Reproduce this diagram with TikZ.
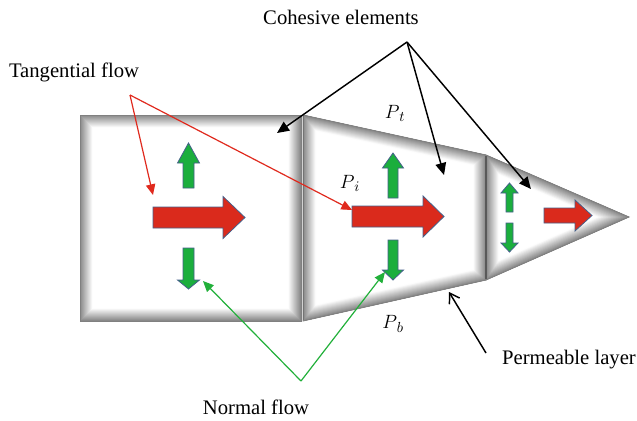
\documentclass[tikz,border=0pt]{standalone}
\usepackage{fontspec}
\setmainfont{Liberation Serif}
\usetikzlibrary{arrows.meta}
\definecolor{flowred}{HTML}{DA2A1C}
\definecolor{flowgreen}{HTML}{1BAE3D}
\definecolor{flowedge}{HTML}{44608A}
\definecolor{lblred}{HTML}{E02A1E}
\definecolor{lblgreen}{HTML}{22B03A}
\tikzset{
  lbl/.style={font=\fontsize{15.5}{18}\selectfont, inner sep=0pt},
  plbl/.style={font=\fontsize{15}{18}\selectfont, inner sep=0pt},
  redflow/.style={fill=flowred, draw=flowedge, line width=0.6pt, line join=miter},
  greenflow/.style={fill=flowgreen, draw=flowedge, line width=0.6pt, line join=miter},
  blackptr/.style={draw=black, line width=1.1pt, -{Triangle[length=9pt,width=8pt]}},
  redptr/.style={draw=lblred, line width=0.9pt, -{Triangle[length=8pt,width=7pt]}},
  greenptr/.style={draw=lblgreen, line width=0.9pt, -{Triangle[length=8pt,width=7pt]}},
  openptr/.style={draw=black, line width=1.1pt, -{Straight Barb[length=7pt,width=9pt]}},
}
% bevelled element: #1 = closed path
\newcommand\bevelelem[1]{%
  \begin{scope}
    \clip #1;
    \fill[white] #1;
    \foreach \i in {13,...,1}{%
      \pgfmathsetmacro\shade{50-\i*3.8}%
      \draw[line width=1.5*\i pt, black!\shade!white, line join=miter] #1;
    }
  \end{scope}
  \draw[black!50, line width=0.6pt, line join=miter] #1;
}
% horizontal block arrow: x0, xheadbase, xtip, yc, bodyhalf, headhalf
\newcommand\blockR[6]{%
  \filldraw[redflow] (#1,#4-#5) -- (#2,#4-#5) -- (#2,#4-#6) -- (#3,#4)
    -- (#2,#4+#6) -- (#2,#4+#5) -- (#1,#4+#5) -- cycle;}
% vertical block arrow: xc, ybodyend, yheadbase, ytip, bodyhalf, headhalf
\newcommand\blockV[6]{%
  \filldraw[greenflow] (#1-#5,#2) -- (#1-#5,#3) -- (#1-#6,#3) -- (#1,#4)
    -- (#1+#6,#3) -- (#1+#5,#3) -- (#1+#5,#2) -- cycle;}
\begin{document}
\begin{tikzpicture}[x=0.75pt,y=-0.75pt]
\useasboundingbox (0,0) rectangle (637,421);

% elements
\bevelelem{(80,115) rectangle (301,321)}
\bevelelem{(303,115) -- (486,155) -- (486,280) -- (303,321) -- cycle}
\bevelelem{(486,155) -- (629,217) -- (486,280) -- cycle}
\draw[black!65, line width=1.3pt] (486,156) -- (486,279);
\draw[black!55, line width=1pt] (303.5,116) -- (303.5,320);

% flows in square
\blockR{153}{223}{245}{217.5}{10.5}{21}
\blockV{188.5}{188}{163}{143}{5.5}{11}
\blockV{188.5}{248}{280}{289}{5.5}{11}
% flows in trapezoid
\blockR{352}{423}{444}{216.5}{10.5}{20.5}
\blockV{393}{198}{168}{153}{5}{10.5}
\blockV{393}{240}{270}{280}{5}{10.5}
% flows in triangle
\blockR{544}{575}{592}{215.5}{7.5}{15.5}
\blockV{509.5}{212}{193}{183}{3.5}{8.5}
\blockV{509.5}{223}{243}{252}{3.5}{8.5}

% labels
\node[lbl] (coh) at (341,17) {Cohesive elements};
\node[lbl] (tan) at (74,72) {Tangential flow};
\node[lbl] (norm) at (256,407) {Normal flow};
\node[lbl] (perm) at (569,360) {Permeable layer};
\node[plbl] (pt) at (395,113) {$P_{\,t}$};
\node[plbl] (pi) at (350,183) {$P_{\,i}$};
\node[plbl] (pb) at (393,324) {$P_{\,b}$};

% pointer hubs and targets
\coordinate (cohhub) at (407,42);
\coordinate (tanhub) at (130,95);
\coordinate (normhub) at (301,381);
\coordinate (permstart) at (486,353);
\coordinate (elemA) at (277,133);
\coordinate (elemB) at (444,175);
\coordinate (elemC) at (531,189);
\coordinate (tanA) at (153,195);
\coordinate (tanB) at (352,210);
\coordinate (normA) at (203,281);
\coordinate (normB) at (385,272);
\coordinate (layer) at (449,292);

\draw[blackptr] (cohhub) -- (elemA);
\draw[blackptr] (cohhub) -- (elemB);
\draw[blackptr] (cohhub) -- (elemC);
\draw[redptr] (tanhub) -- (tanA);
\draw[redptr] (tanhub) -- (tanB);
\draw[greenptr] (normhub) -- (normA);
\draw[greenptr] (normhub) -- (normB);
\draw[openptr] (permstart) -- (layer);
\end{tikzpicture}
\end{document}
